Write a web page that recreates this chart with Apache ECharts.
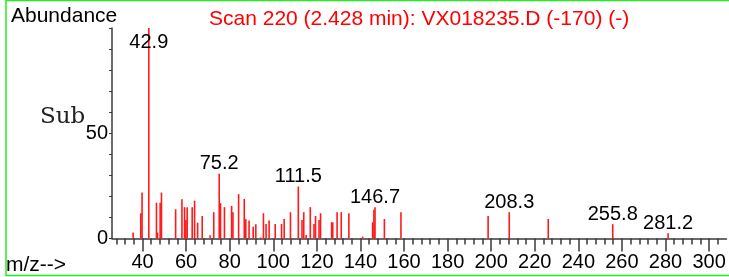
<!DOCTYPE html>
<html>
<head>
<meta charset="utf-8">
<script src="https://cdn.jsdelivr.net/npm/echarts@6/dist/echarts.min.js"></script>
<style>
  html, body { margin: 0; padding: 0; background: #fff; }
  #chart { width: 729px; height: 277px; }
</style>
</head>
<body>
<div id="chart"></div>
<script>
// 质谱数据 (m/z, 丰度)
var mzValues = [35.7, 39.2, 39.8, 42.9, 46.4, 46.9, 48.1, 48.7, 55.2, 58.1, 59.3, 59.9, 60.5, 62.8, 63.9, 65.3,
	67.4, 71.0, 72.7, 75.2, 75.8, 77.6, 80.9, 81.5, 84.1, 86.7, 87.4, 88.9, 90.8, 92.0, 94.2, 95.5, 96.7, 98.1,
	100.9, 103.8, 105.0, 107.9, 111.5, 113.2, 114.0, 115.1, 117.0, 118.7, 119.4, 121.0, 121.7, 126.8, 127.3,
	129.3, 131.2, 134.7, 141.0, 145.6, 146.2, 146.7, 151.0, 158.6, 198.6, 208.3, 226.2, 255.8, 281.2];
var abundance = [2.8, 12, 21.8, 100, 17, 2.8, 17, 21.8, 13.9, 18.7, 14.9, 8.8, 14.9, 14.9, 18, 7.5,
	10.7, 1.5, 12.5, 30.8, 16.8, 14.9, 15.5, 12.5, 21.1, 18.8, 9.2, 8.6, 5.6, 6.8, 0.5, 12, 6.9, 8.6,
	6.9, 6.9, 9.3, 12.5, 24.7, 8.8, 12.5, 1.7, 14.9, 6.9, 10.7, 8.8, 12, 7.7, 7.7,
	12.5, 12.5, 12, 0.9, 7.7, 13.6, 14.9, 9.3, 12.5, 10.7, 12.5, 9.3, 6.8, 2.5];
var peakLabels = ['42.9', '75.2', '111.5', '146.7', '208.3', '255.8', '281.2'];
var majorTicks = [40, 60, 80, 100, 120, 140, 160, 180, 200, 220, 240, 260, 280, 300];
var minorTicks = [];
for (var t = 28; t <= 304; t += 4) minorTicks.push(t);
var yLabels = [0, 50];

var FONT = 'Liberation Sans, Arial, sans-serif';

var barData = mzValues.map(function(mz, i) {
	var item = { value: [mz, abundance[i]] };
	var txt = mz.toFixed(1);
	if (peakLabels.indexOf(txt) >= 0) {
		item.label = { show: true, formatter: txt };
		if (txt === '42.9') item.label.offset = [0, 24];
	}
	return item;
});

var myChart = echarts.init(document.getElementById('chart'));
var axisColor = '#3a3a3a';
myChart.setOption({
	animation: false,
	title: [{
		text: 'Abundance', left: 6, top: 1,
		textStyle: { fontFamily: FONT, fontSize: 21, fontWeight: 'normal', color: '#000' }
	}, {
		text: 'Scan 220 (2.428 min): VX018235.D (-170) (-)', left: 204, top: 4,
		textStyle: { fontFamily: FONT, fontSize: 21, fontWeight: 'normal', color: '#ff0000' }
	}],
	graphic: [{
		type: 'rect', silent: true,
		shape: { x: 6, y: 0.5, width: 740, height: 275 },
		style: { fill: 'none', stroke: '#22ee22', lineWidth: 1.5 }
	}, {
		type: 'text', left: 40, top: 106,
		style: { text: 'Sub', font: 'normal 23px "DejaVu Serif", serif', fill: '#222' }
	}, {
		type: 'text', left: 6, top: 255,
		style: { text: 'm/z-->', font: '21px "Liberation Sans", Arial, sans-serif', fill: '#000' }
	}],
	grid: { left: 112, right: 2.5, top: 28, bottom: 38.5 },
	xAxis: [{
		type: 'value', min: 26, max: 308,
		axisLine: { show: true, lineStyle: { color: axisColor, width: 1.5 } },
		axisTick: { show: true, customValues: minorTicks, length: 6, lineStyle: { color: axisColor, width: 1.5 } },
		axisLabel: { show: false },
		splitLine: { show: false }
	}, {
		type: 'value', min: 26, max: 308, position: 'bottom',
		axisLine: { show: false },
		axisTick: { show: true, customValues: majorTicks, length: 13, lineStyle: { color: axisColor, width: 1.5 } },
		axisLabel: { show: true, customValues: majorTicks, margin: 14, fontFamily: FONT, fontSize: 20, color: '#000' },
		splitLine: { show: false }
	}],
	yAxis: {
		type: 'value', min: 0, max: 100, interval: 10,
		axisLine: { show: true, lineStyle: { color: axisColor, width: 1.5 } },
		axisTick: { show: true, length: 3, lineStyle: { color: axisColor, width: 1 } },
		axisLabel: { show: true, customValues: yLabels, margin: 4, fontFamily: FONT, fontSize: 20, color: '#000' },
		splitLine: { show: false }
	},
	series: [{
		type: 'bar',
		xAxisIndex: 0,
		barWidth: 1.6,
		itemStyle: { color: '#ff1a1a' },
		label: {
			show: false, position: 'top', distance: 0,
			fontFamily: FONT, fontSize: 20, color: '#000'
		},
		data: barData
	}]
});
</script>
</body>
</html>
